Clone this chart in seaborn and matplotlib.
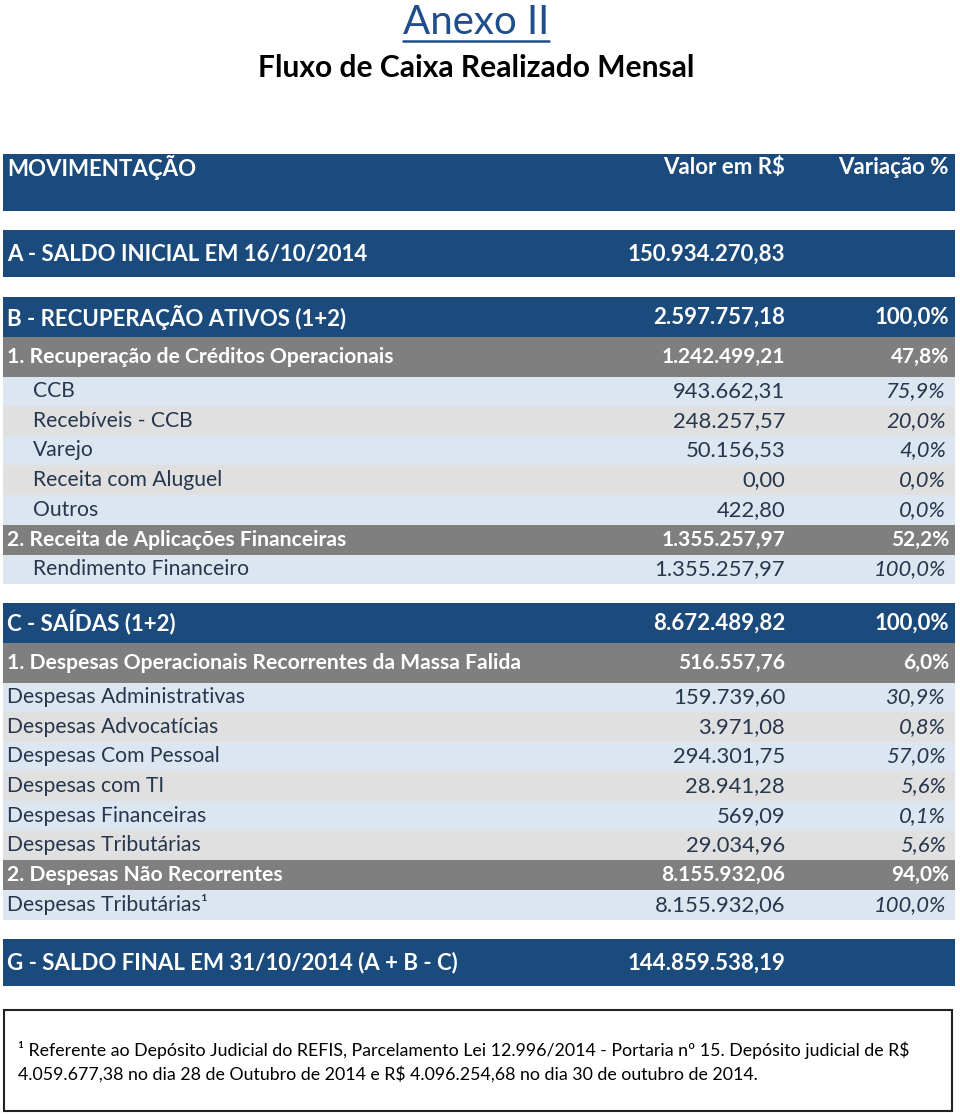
"""
Anexo II - Fluxo de Caixa Realizado Mensal
Tabela desenhada com seaborn/matplotlib
"""

import matplotlib
matplotlib.use('Agg')
import matplotlib.pyplot as plt
import seaborn as sns

# dados
TITULO = 'Anexo II'
SUBTITULO = 'Fluxo de Caixa Realizado Mensal'
CABECALHO = ['MOVIMENTAÇÃO', 'Valor em R$', 'Variação %']

saldo_inicial_rotulo = 'A - SALDO INICIAL EM 16/10/2014'
saldo_inicial = 150934270.83

# secao B
b_rotulos = ['B - RECUPERAÇÃO ATIVOS (1+2)',
             '1. Recuperação de Créditos Operacionais',
             'CCB', 'Recebíveis - CCB', 'Varejo', 'Receita com Aluguel', 'Outros',
             '2. Receita de Aplicações Financeiras',
             'Rendimento Financeiro']
b_valores = [2597757.18, 1242499.21, 943662.31, 248257.57, 50156.53, 0.00, 422.80,
             1355257.97, 1355257.97]
b_pct = [100.0, 47.8, 75.9, 20.0, 4.0, 0.0, 0.0, 52.2, 100.0]
b_tipos = ['sec', 'grp', 'det', 'det', 'det', 'det', 'det', 'grp', 'det']

# secao C
c_rotulos = ['C - SAÍDAS (1+2)',
             '1. Despesas Operacionais Recorrentes da Massa Falida',
             'Despesas Administrativas', 'Despesas Advocatícias', 'Despesas Com Pessoal',
             'Despesas com TI', 'Despesas Financeiras', 'Despesas Tributárias',
             '2. Despesas Não Recorrentes',
             'Despesas Tributárias¹']
c_valores = [8672489.82, 516557.76, 159739.60, 3971.08, 294301.75, 28941.28, 569.09,
             29034.96, 8155932.06, 8155932.06]
c_pct = [100.0, 6.0, 30.9, 0.8, 57.0, 5.6, 0.1, 5.6, 94.0, 100.0]
c_tipos = ['sec', 'grp', 'det', 'det', 'det', 'det', 'det', 'det', 'grp', 'det']

saldo_final_rotulo = 'G - SALDO FINAL EM 31/10/2014 (A + B - C)'
saldo_final = 144859538.19

NOTA = ('¹ Referente ao Depósito Judicial do REFIS, Parcelamento Lei 12.996/2014 - Portaria nº 15. Depósito judicial de R$\n'
        '4.059.677,38 no dia 28 de Outubro de 2014 e R$ 4.096.254,68 no dia 30 de outubro de 2014.')

# cores
AZUL = '#1B4A7C'
CINZA = '#7F7F7F'
AZUL_CLARO = '#DCE6F1'
CINZA_CLARO = '#E0E0E0'
TEXTO_CLARO = '#26364d'
TITULO_COR = '#1F4E8C'


def fmt_valor(v):
    s = f'{v:,.2f}'
    return s.replace(',', 'X').replace('.', ',').replace('X', '.')


def fmt_pct(p):
    return f'{p:.1f}%'.replace('.', ',')


sns.set_theme(style='white')
plt.rcParams['font.family'] = ['Lato', 'DejaVu Sans']

fig = plt.figure(figsize=(9.6, 11.15), dpi=100)
ax = fig.add_axes([0, 0, 1, 1])
ax.set_xlim(0, 960)
ax.set_ylim(1115, 0)
ax.axis('off')

X0, X1 = 3, 955
X_VAL, X_PCT = 785, 949
FS_SEC = 16       # linhas de secao (azul escuro)
FS_ROT = 15.2     # rotulos de grupo e detalhe
FS_NUM_G = 15.0   # numeros das linhas de grupo (negrito)
FS_NUM_D = 15.8   # numeros das linhas de detalhe


def faixa(y0, h, cor):
    ax.barh(y0 + h / 2, X1 - X0, height=h, left=X0, color=cor, linewidth=0)


# titulo
t = ax.text(476, 22, TITULO, ha='center', va='center', fontsize=29, color=TITULO_COR)
ax.text(476, 68, SUBTITULO, ha='center', va='center', fontsize=21.6, fontweight='bold', color='black')
fig.canvas.draw()
bb = t.get_window_extent().transformed(ax.transData.inverted())
ax.plot([bb.x0, bb.x1], [41, 41], color=TITULO_COR, lw=1.8)

# cabecalho
faixa(154, 57, AZUL)
ax.text(7, 168, CABECALHO[0], ha='left', va='center', fontsize=FS_SEC, color='white', fontweight='bold')
ax.text(X_VAL, 168, CABECALHO[1], ha='right', va='center', fontsize=FS_SEC, color='white', fontweight='bold')
ax.text(X_PCT, 168, CABECALHO[2], ha='right', va='center', fontsize=FS_SEC, color='white', fontweight='bold')

# saldo inicial
faixa(230, 47, AZUL)
ax.text(7, 254, saldo_inicial_rotulo, ha='left', va='center', fontsize=FS_SEC, color='white', fontweight='bold')
ax.text(X_VAL, 254, fmt_valor(saldo_inicial), ha='right', va='center', fontsize=FS_SEC, color='white',
        fontweight='bold')


def secao(y, rotulos, valores, pcts, tipos, recuo):
    anterior = None
    alt = 0
    for rot, val, pct, tipo in zip(rotulos, valores, pcts, tipos):
        if tipo == 'sec':
            h, cor, tc, peso, estilo, x = 40, AZUL, 'white', 'bold', 'normal', 7
            fr = fn = FS_SEC
        elif tipo == 'grp':
            h = 39.5 if anterior == 'sec' else 30
            cor, tc, peso, estilo, x = CINZA, 'white', 'bold', 'normal', 7
            fr, fn = FS_ROT, FS_NUM_G
            alt = 0
        else:
            h = 29.6
            cor = AZUL_CLARO if alt % 2 == 0 else CINZA_CLARO
            tc, peso, estilo, x = TEXTO_CLARO, 'normal', 'italic', recuo
            fr, fn = FS_ROT, FS_NUM_D
            alt += 1
        faixa(y, h, cor)
        yc = y + h / 2
        ax.text(x, yc, rot, ha='left', va='center', fontsize=fr, color=tc, fontweight=peso)
        ax.text(X_VAL, yc, fmt_valor(val), ha='right', va='center', fontsize=fn, color=tc, fontweight=peso)
        ax.text(X_PCT - (3 if tipo == 'det' else 0), yc, fmt_pct(pct), ha='right', va='center',
                fontsize=fn, color=tc, fontweight=peso, style=estilo)
        anterior = tipo
        y += h
    return y


secao(297, b_rotulos, b_valores, b_pct, b_tipos, 33)
secao(603, c_rotulos, c_valores, c_pct, c_tipos, 7)

# saldo final
faixa(939, 47, AZUL)
ax.text(7, 963, saldo_final_rotulo, ha='left', va='center', fontsize=FS_SEC, color='white', fontweight='bold')
ax.text(X_VAL, 963, fmt_valor(saldo_final), ha='right', va='center', fontsize=FS_SEC, color='white',
        fontweight='bold')

# nota de rodape
ax.add_patch(plt.Rectangle((4, 1010), 948, 101, fill=False, edgecolor='#222222', lw=1.5))
ax.text(18, 1062, NOTA, ha='left', va='center', fontsize=12.8, color='black', linespacing=1.5)

fig.savefig('out.png', dpi=100)
